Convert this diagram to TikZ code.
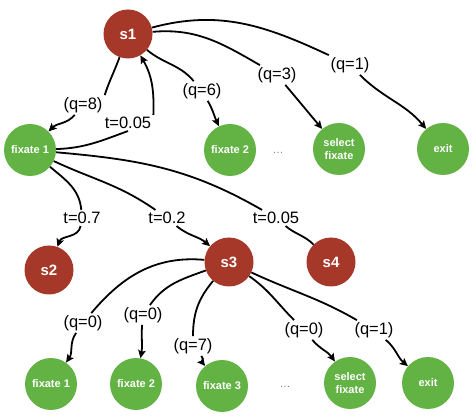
\documentclass[tikz,border=0pt]{standalone}
\usepackage{fontspec}
\setmainfont{Liberation Sans}
\usetikzlibrary{arrows.meta}
\definecolor{nodered}{RGB}{165,56,40}
\definecolor{nodegreen}{RGB}{98,178,68}
\begin{document}
\begin{tikzpicture}[x=1pt,y=1pt,
 state/.style={circle,fill=nodered,text=white,font=\fontsize{15}{15}\selectfont\bfseries,minimum size=49pt,inner sep=0pt},
 act/.style={circle,fill=nodegreen,text=white,font=\fontsize{11}{13}\selectfont\bfseries,minimum size=52pt,inner sep=0pt,align=center},
 lab/.style={font=\fontsize{16.5}{16.5}\selectfont,inner sep=2pt},
 ln/.style={line width=1.8pt,black},
 arr/.style={ln,-{Stealth[length=8pt,width=7.5pt,inset=1.5pt]}},
 dotsn/.style={font=\fontsize{11}{11}\selectfont,text=gray}]
\useasboundingbox (0,0) rectangle (474,418);
% nodes
\node[state] (s1) at (128,384) {s1};
\node[act] (fx1a) at (30,268) {fixate 1};
\node[act] (fx2a) at (230,268) {fixate 2};
\node[act] (sela) at (339,269) {select\\fixate};
\node[act] (exita) at (443,269) {exit};
\node[dotsn] (dotsa) at (278,265) {\dots};
\node[state] (s2) at (49,148) {s2};
\node[state] (s3) at (229,156) {s3};
\node[state] (s4) at (331,156) {s4};
\node[act] (fx1b) at (51,34) {fixate 1};
\node[act] (fx2b) at (136,34) {fixate 2};
\node[act] (fx3b) at (222,32) {fixate 3};
\node[dotsn] (dotsb) at (285,31) {\dots};
\node[act] (selb) at (350,35) {select\\fixate};
\node[act] (exitb) at (428,35) {exit};
% labels
\node[lab] (q8) at (83,313) {(q=8)};
\node[lab] (t005a) at (128,295) {t=0.05};
\node[lab] (q6) at (202,327) {(q=6)};
\node[lab] (q3) at (277,343) {(q=3)};
\node[lab] (q1a) at (350,353) {(q=1)};
\node[lab] (t07) at (82,200) {t=0.7};
\node[lab] (t02) at (167,200) {t=0.2};
\node[lab] (t005b) at (276,200) {t=0.05};
\node[lab] (q0a) at (83,95) {(q=0)};
\node[lab] (q0b) at (143,103) {(q=0)};
\node[lab] (q7) at (193,72) {(q=7)};
\node[lab] (q0c) at (304,88) {(q=0)};
\node[lab] (q1b) at (374,88) {(q=1)};
% top edges
\draw[ln] (s1) to[out=250,in=72] (q8.north east);
\draw[arr] (q8) to[out=230,in=45] (fx1a);
\draw[ln] (fx1a) to[out=2,in=200] (t005a.south);
\draw[arr] (t005a.north east) to[out=88,in=-60] (s1);
\draw[ln] (s1) to[out=-40,in=130] (q6);
\draw[arr] (q6) to[out=-60,in=115] (fx2a);
\draw[ln] (s1) to[out=5,in=150] (q3);
\draw[arr] (q3) to[out=-50,in=130] (sela);
\draw[ln] (s1) to[out=15,in=155] (q1a);
\draw[arr] (q1a) to[out=-45,in=130] (exita);
% middle edges
\draw[ln] (fx1a) to[out=-40,in=95] (t07);
\draw[arr] (t07) to[out=-100,in=70] (s2);
\draw[ln] (fx1a) to[out=-25,in=145] (t02);
\draw[arr] (t02) to[out=-40,in=140] (s3);
\draw[ln] (fx1a) to[out=-5,in=150] (t005b);
\draw[ln] (t005b) to[out=-40,in=135] (s4);
% bottom edges
\draw[ln] (s3) to[out=175,in=50] (q0a);
\draw[arr] (q0a) to[out=-125,in=55] (fx1b);
\draw[ln] (s3) to[out=200,in=55] (q0b);
\draw[arr] (q0b) to[out=-95,in=80] (fx2b);
\draw[ln] (s3) to[out=230,in=90] (q7);
\draw[arr] (q7) to[out=-50,in=130] (fx3b);
\draw[ln] (s3) to[out=-35,in=135] (q0c);
\draw[arr] (q0c) to[out=-50,in=125] (selb);
\draw[ln] (s3) to[out=-25,in=150] (q1b);
\draw[arr] (q1b) to[out=-40,in=140] (exitb);
\end{tikzpicture}
\end{document}
